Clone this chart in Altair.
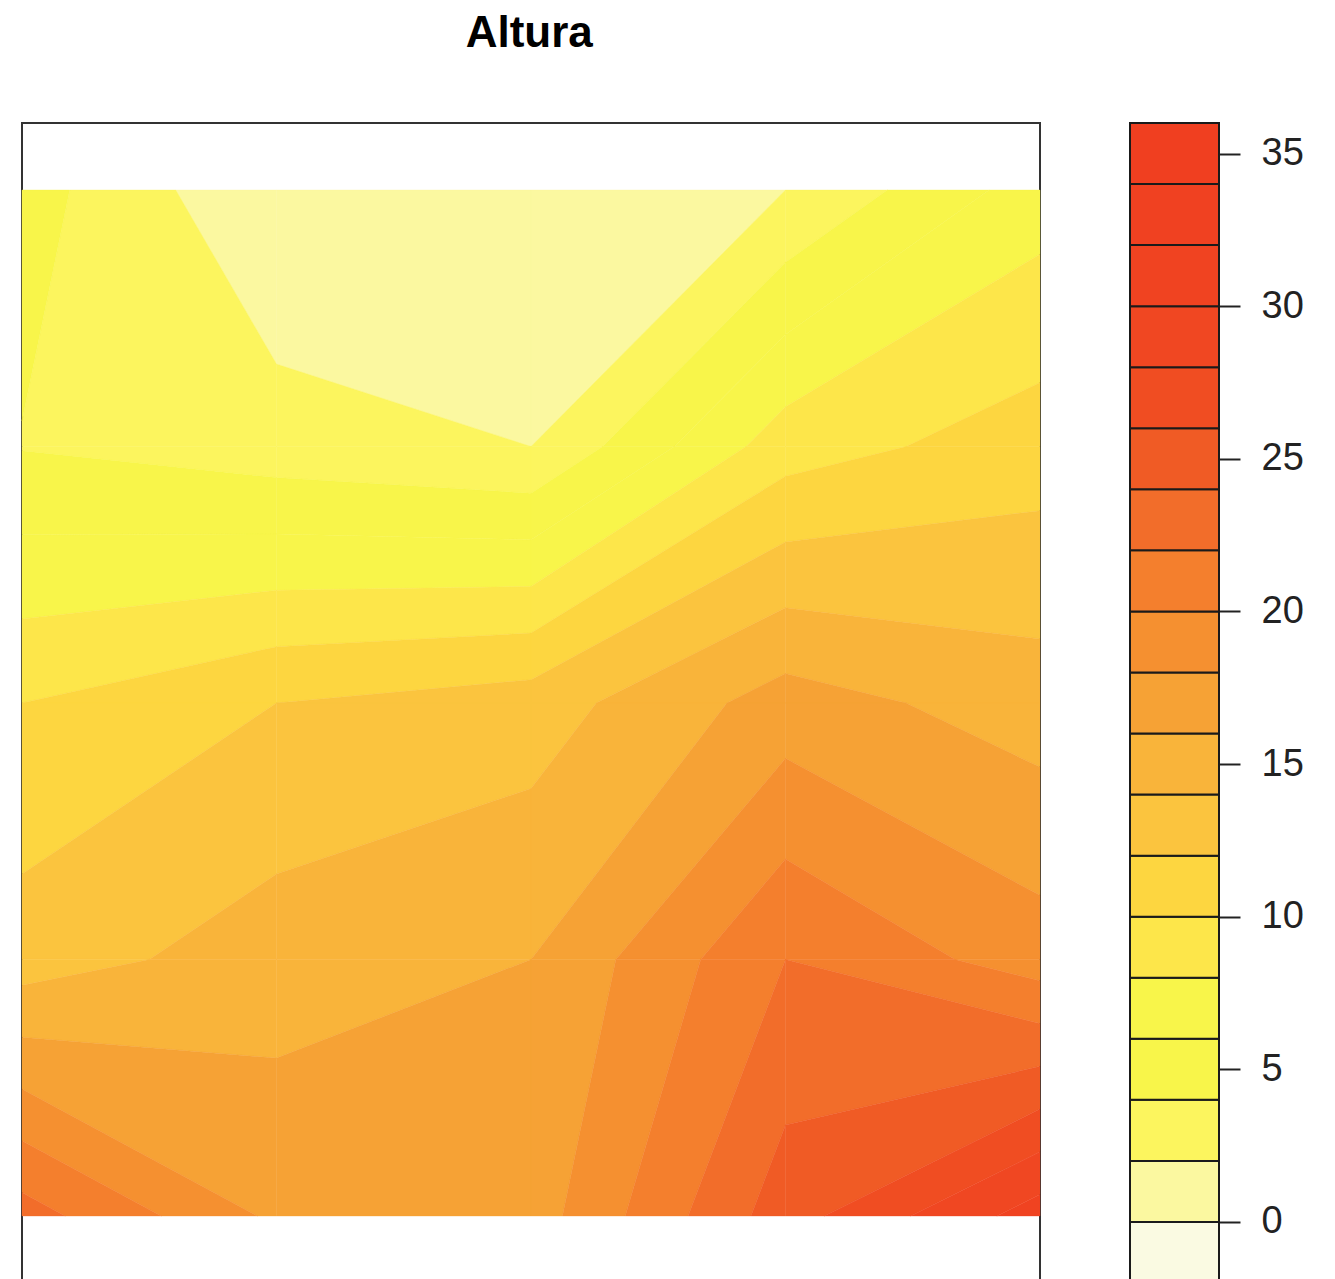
import altair as alt
import pandas as pd

# ---------------- data ----------------
title_text = "Altura"
x_coords = [1, 2, 3, 4, 5]          # grid columns (left -> right)
y_coords = [5, 4, 3, 2, 1]          # grid rows (top -> bottom)
z_row_0 = [4.9, 0.1, 1.0, 2.0, 7.0]
z_row_1 = [3.9, 2.9, 2.0, 9.1, 11.0]
z_row_2 = [10.0, 12.0, 13.0, 16.9, 15.0]
z_row_3 = [13.0, 15.0, 16.0, 22.0, 19.0]
z_row_4 = [22.9, 17.6, 17.0, 25.1, 31.0]
z_rows = [z_row_0, z_row_1, z_row_2, z_row_3, z_row_4]
levels = [-2, 0, 2, 4, 6, 8, 10, 12, 14, 16, 18, 20, 22, 24, 26, 28, 30, 32, 34, 36]
key_ticks = [0, 5, 10, 15, 20, 25, 30, 35]

# band colours (lowest band first), as they appear in the reference
palette = [
    "#fafae2", "#fbf8a0", "#fcf55e", "#f8f54a", "#f8f54a",
    "#fde64a", "#fdd640", "#fbc43e", "#f9b43a", "#f6a235",
    "#f59030", "#f47f2d", "#f26d2a", "#f05b25", "#f04d22",
    "#f04722", "#f04321", "#f04121", "#f03f20",
]
n_bands = len(levels) - 1

# ---------------- filled-contour polygons (cell by cell, linear on edges) ----------------
def clip(poly, level, above):
    out = []
    n = len(poly)
    for a in range(n):
        p1 = poly[a]
        p2 = poly[(a + 1) % n]
        in1 = p1[2] >= level if above else p1[2] <= level
        in2 = p2[2] >= level if above else p2[2] <= level
        if in1:
            out.append(p1)
        if in1 != in2:
            t = (level - p1[2]) / (p2[2] - p1[2])
            out.append((p1[0] + t * (p2[0] - p1[0]), p1[1] + t * (p2[1] - p1[1]), level))
    return out

def area(poly):
    s = 0.0
    for a in range(len(poly)):
        x1, y1 = poly[a][0], poly[a][1]
        x2, y2 = poly[(a + 1) % len(poly)][0], poly[(a + 1) % len(poly)][1]
        s += x1 * y2 - x2 * y1
    return abs(s) / 2

rows = []
pid = 0
for r in range(len(y_coords) - 1):
    for c in range(len(x_coords) - 1):
        cell = [
            (x_coords[c], y_coords[r + 1], z_rows[r + 1][c]),
            (x_coords[c + 1], y_coords[r + 1], z_rows[r + 1][c + 1]),
            (x_coords[c + 1], y_coords[r], z_rows[r][c + 1]),
            (x_coords[c], y_coords[r], z_rows[r][c]),
        ]
        for b in range(n_bands):
            poly = clip(cell, levels[b], True)
            if len(poly) < 3:
                continue
            poly = clip(poly, levels[b + 1], False)
            if len(poly) < 3 or area(poly) < 1e-9:
                continue
            for k, p in enumerate(poly + [poly[0]]):
                rows.append({"pid": pid, "k": k, "x": p[0], "y": p[1], "color": palette[b]})
            pid += 1

poly_df = pd.DataFrame(rows)

# plot region: data rows span 190..1215 px inside a frame 123..1283 px
y_pad = 0.2615
main = alt.Chart(poly_df).mark_line(strokeWidth=0.4, interpolate="linear").encode(
    x=alt.X("x:Q", scale=alt.Scale(domain=[min(x_coords), max(x_coords)], nice=False, zero=False), axis=None),
    y=alt.Y("y:Q", scale=alt.Scale(domain=[min(y_coords) - y_pad, max(y_coords) + y_pad], nice=False, zero=False), axis=None),
    detail="pid:N",
    order="k:Q",
    fill=alt.Fill("color:N", scale=None),
    stroke=alt.Stroke("color:N", scale=None),
).properties(width=1018, height=1160)

key_df = pd.DataFrame({
    "lo": levels[:-1],
    "hi": levels[1:],
    "color": palette,
    "x0": [0] * n_bands,
    "x1": [1] * n_bands,
})

key = alt.Chart(key_df).mark_rect(stroke="#1a1a1a", strokeWidth=2).encode(
    x=alt.X("x0:Q", scale=alt.Scale(domain=[0, 1], nice=False, zero=False), axis=None),
    x2="x1:Q",
    y=alt.Y(
        "lo:Q",
        scale=alt.Scale(domain=[levels[0], levels[-1]], nice=False, zero=False),
        axis=alt.Axis(
            orient="right", values=key_ticks, tickSize=21, tickWidth=2, tickColor="#222",
            labelFontSize=38, labelFont="Liberation Sans", labelColor="#222", labelPadding=21,
            labelAlign="left", labelBaseline="middle", labelFlush=False, labelOverlap=False,
            domain=False, grid=False, title=None,
        ),
    ),
    y2="hi:Q",
    fill=alt.Fill("color:N", scale=None),
).properties(width=89, height=1160)

chart = alt.hconcat(
    main, key, spacing=86,
    title=alt.TitleParams(
        title_text, fontSize=44, fontWeight="bold", font="Liberation Sans", color="black",
        anchor="start", align="center", dx=509, offset=65, baseline="top",
    ),
).properties(
    padding={"left": 12, "top": 4, "right": 10, "bottom": 10}
).configure_view(stroke="#333", strokeWidth=2)

chart.save("out.html", embed_options={"renderer": "svg", "actions": False})
